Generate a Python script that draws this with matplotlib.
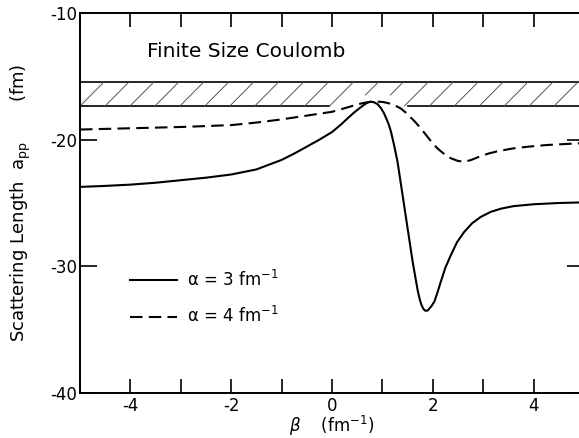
import numpy as np
import matplotlib
matplotlib.use("Agg")
import matplotlib.pyplot as plt
from matplotlib.ticker import MultipleLocator, FuncFormatter

plt.rcParams["font.family"] = ["DejaVu Sans"]
plt.rcParams["axes.unicode_minus"] = False
plt.rcParams["mathtext.fontset"] = "dejavusans"

# alpha = 3 fm^-1 (solid)
beta_a3 = [-5.0, -4.5, -4.0, -3.5, -3.0, -2.5, -2.0, -1.5, -1.0, -0.75, -0.5, -0.25,
           0.0, 0.18, 0.3, 0.44, 0.6, 0.7, 0.76, 0.82, 0.9, 0.97, 1.03, 1.08, 1.13,
           1.17, 1.23, 1.30, 1.40, 1.50, 1.60, 1.66, 1.70, 1.74, 1.78, 1.82, 1.86,
           1.90, 1.94, 1.98, 2.03, 2.09, 2.16, 2.25, 2.36, 2.48, 2.62, 2.78, 2.95,
           3.15, 3.35, 3.6, 4.0, 4.5, 5.0]
a_pp_a3 = [-23.73, -23.65, -23.55, -23.4, -23.2, -23.0, -22.75, -22.35, -21.6, -21.1,
           -20.55, -20.0, -19.4, -18.8, -18.35, -17.85, -17.35, -17.08, -17.0, -17.03,
           -17.18, -17.5, -17.9, -18.35, -18.85, -19.37, -20.4, -21.74, -24.37, -27.0,
           -29.63, -31.0, -31.9, -32.6, -33.1, -33.4, -33.52, -33.48, -33.3, -33.1,
           -32.79, -32.1, -31.2, -30.1, -29.1, -28.1, -27.3, -26.6, -26.1, -25.7,
           -25.45, -25.25, -25.1, -25.0, -24.95]

# alpha = 4 fm^-1 (dashed)
beta_a4 = [-5.0, -4.0, -3.0, -2.0, -1.5, -1.0, -0.5, 0.0, 0.18, 0.35, 0.5, 0.65, 0.76,
           0.9, 1.0, 1.1, 1.2, 1.3, 1.37, 1.46, 1.55, 1.65, 1.76, 1.9, 2.0, 2.09, 2.2,
           2.36, 2.5, 2.62, 2.75, 2.95, 3.1, 3.3, 3.61, 3.9, 4.27, 4.6, 5.0]
a_pp_a4 = [-19.2, -19.1, -19.0, -18.85, -18.65, -18.4, -18.1, -17.8, -17.6, -17.4,
           -17.22, -17.08, -17.02, -17.0, -17.02, -17.1, -17.22, -17.4, -17.55, -17.85,
           -18.2, -18.6, -19.1, -19.8, -20.3, -20.68, -21.05, -21.47, -21.68, -21.74,
           -21.62, -21.3, -21.1, -20.9, -20.68, -20.55, -20.42, -20.35, -20.27]

# finite size Coulomb band
band_top = -15.45
band_bottom = -17.35

fig = plt.figure(figsize=(5.79, 4.38), dpi=100)
ax = fig.add_axes([80 / 579, 45 / 438, 504 / 579, 380 / 438])
ax.set_xlim(-5, 5)
ax.set_ylim(-40, -10)

# band with hand drawn hatching
gap_lo, gap_hi = -0.06, 1.5
ax.axhline(band_top, color="black", lw=1.2)
ax.plot([-5, gap_lo], [band_bottom, band_bottom], color="black", lw=1.2)
ax.plot([gap_hi, 5], [band_bottom, band_bottom], color="black", lw=1.2)
dx = 0.475
for x0 in np.arange(-5.0, 5.0, 0.495):
    y0 = band_bottom
    xs = x0
    if gap_lo + 0.1 < x0 < gap_hi - 0.5:
        y0 = -16.5
        xs = x0 + dx * (y0 - band_bottom) / (band_top - band_bottom)
    ax.plot([xs, x0 + dx], [y0, band_top], color="#555555", lw=0.7,
            solid_capstyle="butt")

ax.plot(beta_a3, a_pp_a3, color="black", lw=1.5, label="α = 3 fm$^{-1}$")
ax.plot(beta_a4, a_pp_a4, color="black", lw=1.5, linestyle=(0, (6, 3)),
        label="α = 4 fm$^{-1}$")

ax.text(-3.68, -13.0, "Finite Size Coulomb", fontsize=14.5, ha="left", va="center")

ax.legend(loc="upper left", bbox_to_anchor=(0.099, 0.325), frameon=False,
          fontsize=12, handlelength=2.8, handletextpad=0.6, labelspacing=1.0,
          borderpad=0, borderaxespad=0)

# axes styling
for s in ax.spines.values():
    s.set_linewidth(1.4)
ax.xaxis.set_major_locator(MultipleLocator(1))
ax.xaxis.set_major_formatter(FuncFormatter(lambda v, p: f"{v:.0f}" if round(v) % 2 == 0 else ""))
ax.set_yticks([-40, -30, -20, -10])
ax.set_yticklabels(["-40", "-30", "-20", "-10"])
ax.tick_params(axis="x", direction="in", length=10, width=1.2, top=True,
               labelsize=12, pad=3)
ax.tick_params(axis="y", direction="in", length=12, width=1.2, right=True,
               labelsize=12, pad=2)

ax.set_xlabel(r"$\beta$    (fm$^{-1}$)", fontsize=12, labelpad=-1)
ax.set_ylabel(r"Scattering Length  $\mathregular{a_{pp}}$       (fm)", fontsize=13)
ax.yaxis.set_label_coords(-0.093, 0.5)

fig.savefig("out.png", dpi=100)
